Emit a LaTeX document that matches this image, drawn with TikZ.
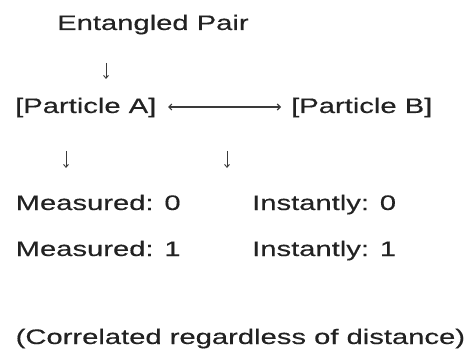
\documentclass[tikz,border=0pt]{standalone}
\usepackage{fontspec}
\setmainfont[FakeStretch=1.39,FakeBold=0.4]{Liberation Sans}
\usetikzlibrary{arrows.meta}
\definecolor{txt}{HTML}{222222}
\definecolor{arr}{HTML}{3A3A3A}
\tikzset{
  lbl/.style={anchor=base west, inner sep=0pt, text=txt, font=\fontsize{21}{25}\selectfont},
  dnarrow/.style={draw=arr, line width=0.9pt, -{Straight Barb[length=3pt,width=5pt]}},
  twoarrow/.style={draw=arr, line width=1.1pt, {Straight Barb[length=3pt,width=6pt]}-{Straight Barb[length=3pt,width=6pt]}}
}
\begin{document}
\begin{tikzpicture}[x=1pt,y=1pt]
\useasboundingbox (0,0) rectangle (473,351);
\node[lbl] (ent) at (57,321) {Entangled Pair};
\node[lbl] (pa) at (15,238) {[Particle A]};
\node[lbl] (pb) at (291,238) {[Particle B]};
\node[lbl] (m0) at (15.5,141) {Measured: 0};
\node[lbl] (i0) at (252,141) {Instantly: 0};
\node[lbl] (m1) at (15.5,95) {Measured: 1};
\node[lbl] (i1) at (252,95) {Instantly: 1};
\node[lbl] (corr) at (15.5,7) {(Correlated regardless of distance)};
\coordinate (a1s) at (106,288);
\coordinate (a1e) at (106,272);
\coordinate (a2s) at (66,200);
\coordinate (a2e) at (66,183);
\coordinate (a3s) at (227,200);
\coordinate (a3e) at (227,183);
\coordinate (dl) at (168,244);
\coordinate (dr) at (281,244);
\draw[dnarrow] (a1s) -- (a1e);
\draw[dnarrow] (a2s) -- (a2e);
\draw[dnarrow] (a3s) -- (a3e);
\draw[twoarrow] (dl) -- (dr);
\end{tikzpicture}
\end{document}
